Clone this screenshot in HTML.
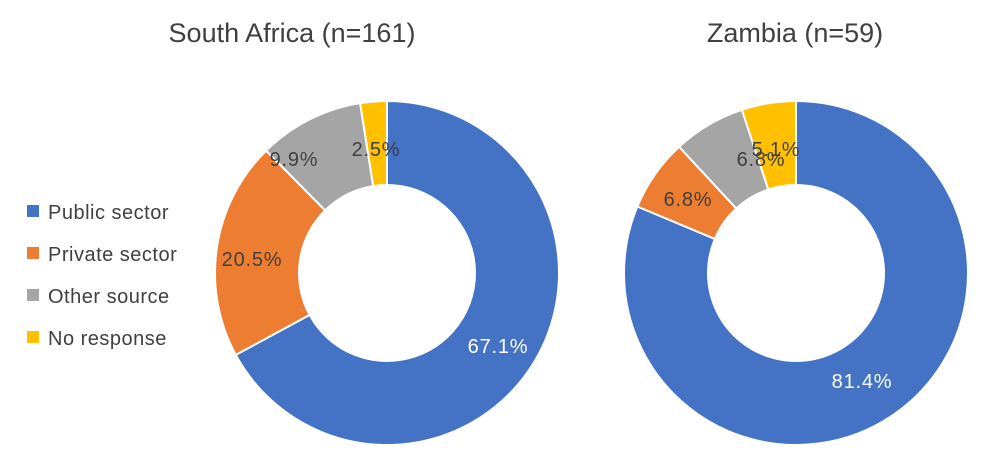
<!DOCTYPE html>
<html><head><meta charset="utf-8"><style>
body{margin:0;background:#fff;}
svg{display:block;font-family:"Liberation Sans",sans-serif;}
</style></head><body>
<svg id="s" width="1000" height="465" viewBox="0 0 1000 465">
<text x="292" y="42" font-size="27" fill="#404040" text-anchor="middle">South Africa (n=161)</text>
<text x="795" y="42" font-size="27" fill="#404040" text-anchor="middle">Zambia (n=59)</text>
<rect x="27" y="205" width="12" height="12" fill="#4472C4"/>
<text x="48" y="219" font-size="20" letter-spacing="0.5" fill="#404040">Public sector</text>
<rect x="27" y="247" width="12" height="12" fill="#ED7D31"/>
<text x="48" y="261" font-size="20" letter-spacing="0.5" fill="#404040">Private sector</text>
<rect x="27" y="289" width="12" height="12" fill="#A5A5A5"/>
<text x="48" y="303" font-size="20" letter-spacing="0.5" fill="#404040">Other source</text>
<rect x="27" y="331" width="12" height="12" fill="#FFC000"/>
<text x="48" y="345" font-size="20" letter-spacing="0.5" fill="#404040">No response</text>
<g id="d"></g>
<g font-size="20" letter-spacing="0.8" text-anchor="middle">
<text x="498" y="353" fill="#fff">67.1%</text>
<text x="252" y="266" fill="#404040">20.5%</text>
<text x="294" y="166" fill="#404040">9.9%</text>
<text x="376" y="156" fill="#404040">2.5%</text>
<text x="862" y="388" fill="#fff">81.4%</text>
<text x="688" y="206" fill="#404040">6.8%</text>
<text x="761" y="166" fill="#404040">6.8%</text>
<text x="776" y="156" fill="#404040">5.1%</text>
</g>
</svg>
<script>
function donut(cx,cy,R,r,vals){
 var cols=["#4472C4","#ED7D31","#A5A5A5","#FFC000"],tot=vals.reduce((a,b)=>a+b),a0=0,out="";
 vals.forEach(function(v,i){
  var a1=a0+v/tot*2*Math.PI;
  function p(rad,a){return (cx+rad*Math.sin(a)).toFixed(2)+","+(cy-rad*Math.cos(a)).toFixed(2);}
  var lg=(a1-a0)>Math.PI?1:0;
  out+='<path d="M'+p(R,a0)+' A'+R+','+R+' 0 '+lg+' 1 '+p(R,a1)+' L'+p(r,a1)+' A'+r+','+r+' 0 '+lg+' 0 '+p(r,a0)+' Z" fill="'+cols[i]+'" stroke="#fff" stroke-width="2"/>';
  a0=a1;
 });
 return out;
}
document.getElementById("d").innerHTML=donut(387,273,172,88,[67.1,20.5,9.9,2.5])+donut(796,273,172,88,[81.4,6.8,6.8,5.1]);
</script>
</body></html>
